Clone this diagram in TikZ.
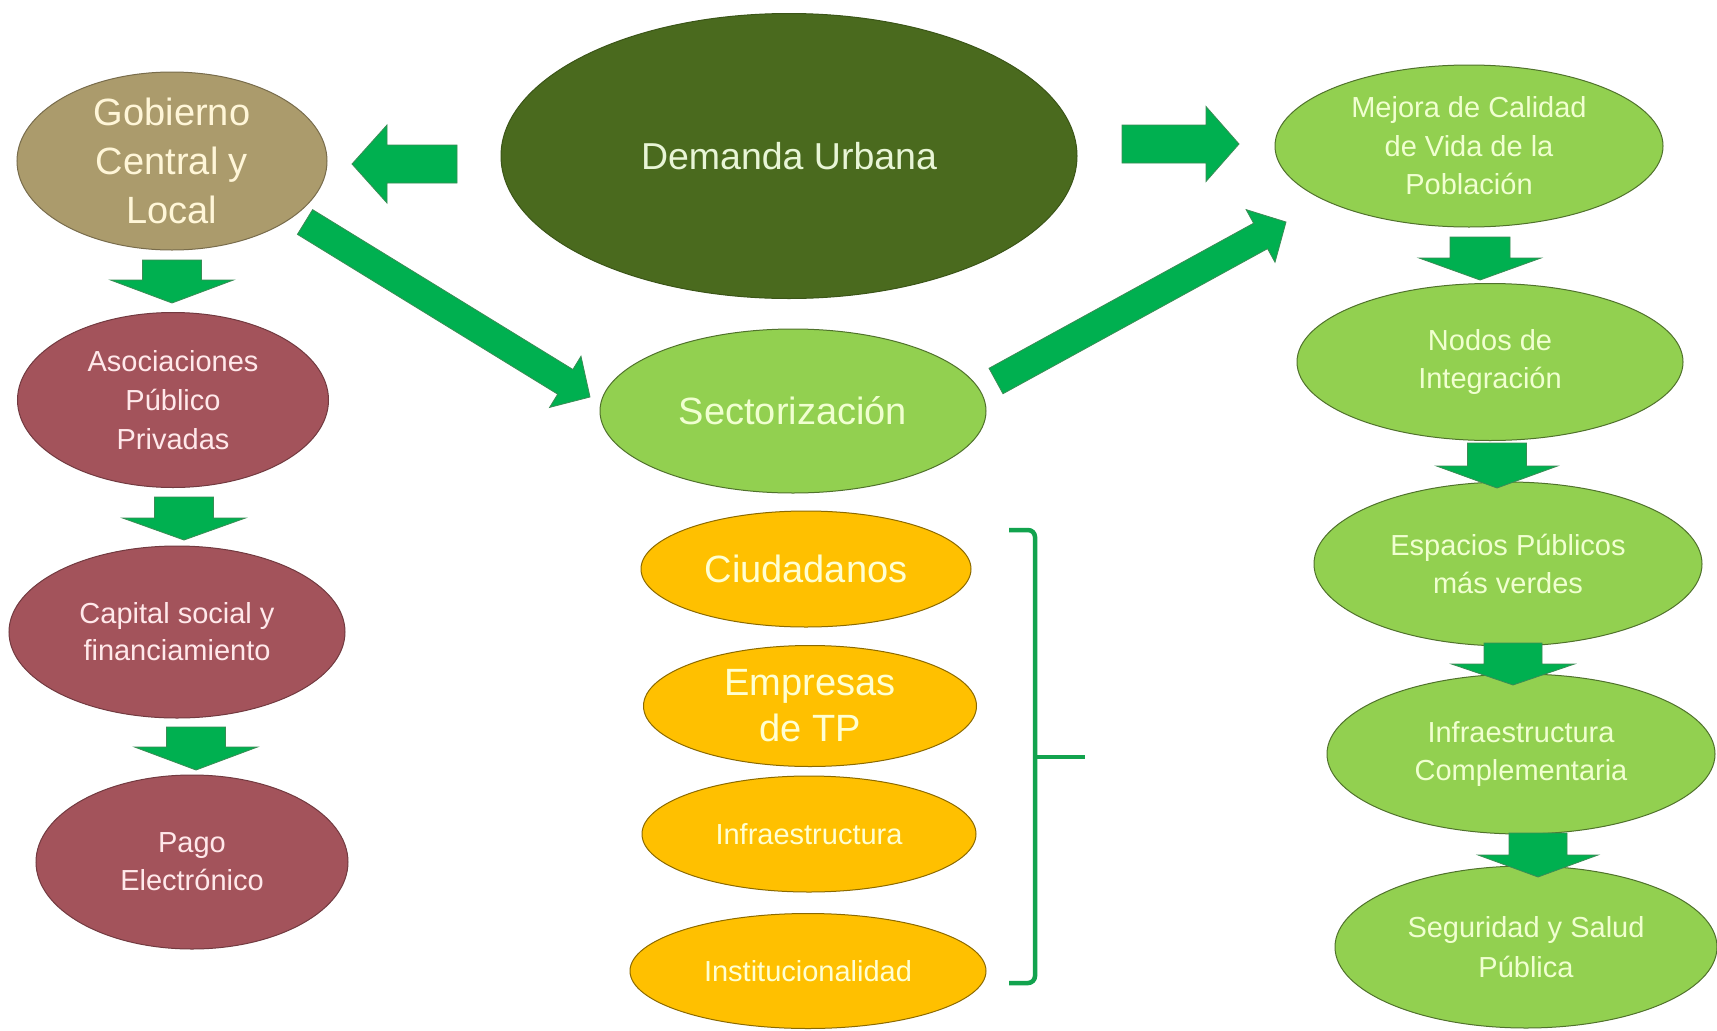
\documentclass[tikz,border=0pt]{standalone}
\usepackage{fontspec}
\setmainfont{Liberation Sans}
\usetikzlibrary{shapes.geometric,calc}
\definecolor{cArrow}{HTML}{00B050}
\definecolor{cArrowEdge}{HTML}{3A8C55}
\definecolor{cTan}{HTML}{AB9B6C}
\definecolor{cTanText}{HTML}{FFF6D8}
\definecolor{cRed}{HTML}{A3535B}
\definecolor{cRedText}{HTML}{FFE8EA}
\definecolor{cDark}{HTML}{4A6A1E}
\definecolor{cDarkText}{HTML}{E8F5D6}
\definecolor{cGreen}{HTML}{92D050}
\definecolor{cGreenText}{HTML}{F0FFD0}
\definecolor{cYellow}{HTML}{FFC000}
\definecolor{cYellowText}{HTML}{FFFFD2}
\definecolor{cBracket}{HTML}{12A34E}
\tikzset{
  blob/.style={ellipse, inner sep=-30pt, align=center, line width=1pt},
  tanblob/.style={blob, fill=cTan, draw=cTan!70!black, text=cTanText},
  redblob/.style={blob, fill=cRed, draw=cRed!70!black, text=cRedText},
  darkblob/.style={blob, fill=cDark, draw=cDark!80!black, text=cDarkText},
  greenblob/.style={blob, fill=cGreen, draw=cGreen!55!black, text=cGreenText},
  yellowblob/.style={blob, fill=cYellow, draw=cYellow!55!black, text=cYellowText},
  blockarrow/.style={fill=cArrow, draw=cArrowEdge, line width=0.8pt, line join=miter},
  bracketline/.style={draw=cBracket, line width=4.5pt, rounded corners=7pt}
}
% block arrow: #1 start, #2 tip, #3 shaft half width, #4 head half width, #5 head length
\newcommand\blockarr[5]{%
  \coordinate (barbase) at ($(#2)!#5!(#1)$);
  \filldraw[blockarrow] ($(#1)!#3!90:(#2)$) -- ($(barbase)!#3!90:(#2)$)
    -- ($(barbase)!#4!90:(#2)$) -- (#2) -- ($(barbase)!#4!-90:(#2)$)
    -- ($(barbase)!#3!-90:(#2)$) -- ($(#1)!#3!-90:(#2)$) -- cycle;}
\begin{document}
\begin{tikzpicture}[x=1pt,y=-1pt]
\fill[white] (0,0) rectangle (1717,1031);
\useasboundingbox (0,0) rectangle (1717,1031);

% left column
\node[tanblob, minimum width=310pt, minimum height=178pt, font=\fontsize{38}{49}\selectfont] (gob) at (172,161) {Gobierno\\Central y\\Local};
\node[redblob, minimum width=311pt, minimum height=175pt, font=\fontsize{29}{39}\selectfont] (aso) at (173,400) {Asociaciones\\Público\\Privadas};
\node[redblob, minimum width=336pt, minimum height=172pt, font=\fontsize{29}{37}\selectfont] (cap) at (177,632) {Capital social y\\financiamiento};
\node[redblob, minimum width=312pt, minimum height=174pt, font=\fontsize{29}{38}\selectfont] (pago) at (192,862) {Pago\\Electrónico};

% centre
\node[darkblob, minimum width=576pt, minimum height=285pt, font=\fontsize{37.5}{45}\selectfont] (dem) at (789,156) {Demanda Urbana};
\node[greenblob, minimum width=386pt, minimum height=164pt, font=\fontsize{38}{45}\selectfont] (sec) at (793,411) {Sectorización};
\node[yellowblob, minimum width=330pt, minimum height=116pt, font=\fontsize{38}{46}\selectfont] (ciu) at (806,569) {Ciudadanos};
\node[yellowblob, minimum width=333pt, minimum height=121pt, font=\fontsize{38}{46}\selectfont] (emp) at (810,706) {Empresas\\de TP};
\node[yellowblob, minimum width=334pt, minimum height=116pt, font=\fontsize{29}{36}\selectfont] (inf) at (809,834) {Infraestructura};
\node[yellowblob, minimum width=356pt, minimum height=115pt, font=\fontsize{29}{36}\selectfont] (ins) at (808,971) {Institucionalidad};

% right column
\node[greenblob, minimum width=388pt, minimum height=162pt, font=\fontsize{29}{38.5}\selectfont] (mej) at (1469,146) {Mejora de Calidad\\de Vida de la\\Población};
\node[greenblob, minimum width=386pt, minimum height=157pt, font=\fontsize{29}{38}\selectfont] (nod) at (1490,362) {Nodos de\\Integración};
\node[greenblob, minimum width=388pt, minimum height=164pt, font=\fontsize{29}{38}\selectfont] (esp) at (1508,564) {Espacios Públicos\\más verdes};
\node[greenblob, minimum width=388pt, minimum height=160pt, font=\fontsize{29}{38}\selectfont] (ico) at (1521,754) {Infraestructura\\Complementaria};
\node[greenblob, minimum width=382pt, minimum height=162pt, font=\fontsize{29}{40}\selectfont] (seg) at (1526,947) {Seguridad y Salud\\Pública};

% arrow end points
\coordinate (lS) at (457,164);  \coordinate (lE) at (352,164);
\coordinate (rS) at (1122,144); \coordinate (rE) at (1239,144);
\coordinate (d1S) at (305,222); \coordinate (d1E) at (590,397);
\coordinate (d2S) at (996,381); \coordinate (d2E) at (1286,222);
\coordinate (a1S) at (172,260); \coordinate (a1E) at (172,303);
\coordinate (a2S) at (184,497); \coordinate (a2E) at (184,540);
\coordinate (a3S) at (196,727); \coordinate (a3E) at (196,770);
\coordinate (b1S) at (1480,237); \coordinate (b1E) at (1480,280);
\coordinate (b2S) at (1497,443); \coordinate (b2E) at (1497,488);
\coordinate (b3S) at (1513,643); \coordinate (b3E) at (1513,685);
\coordinate (b4S) at (1538,833); \coordinate (b4E) at (1538,877);

\blockarr{lS}{lE}{19pt}{39pt}{35pt}
\blockarr{rS}{rE}{19pt}{37.5pt}{33pt}
\blockarr{d1S}{d1E}{14.5pt}{30pt}{29pt}
\blockarr{d2S}{d2E}{14.5pt}{30pt}{29pt}
\blockarr{a1S}{a1E}{29.5pt}{61.5pt}{23pt}
\blockarr{a2S}{a2E}{29.5pt}{61.5pt}{22pt}
\blockarr{a3S}{a3E}{29.5pt}{61.5pt}{23pt}
\blockarr{b1S}{b1E}{30pt}{61pt}{22pt}
\blockarr{b2S}{b2E}{29.5pt}{60.5pt}{22pt}
\blockarr{b3S}{b3E}{29pt}{61.5pt}{21pt}
\blockarr{b4S}{b4E}{29pt}{60pt}{22pt}

% bracket grouping the yellow nodes
\coordinate (brT) at (1009,530);
\coordinate (brB) at (1009,983);
\coordinate (brM) at (1035,757);
\coordinate (brTip) at (1085,757);
\draw[bracketline] (brT) -- (1035,530) -- (1035,983) -- (brB);
\draw[bracketline, rounded corners=0pt] (brM) -- (brTip);
\end{tikzpicture}
\end{document}
